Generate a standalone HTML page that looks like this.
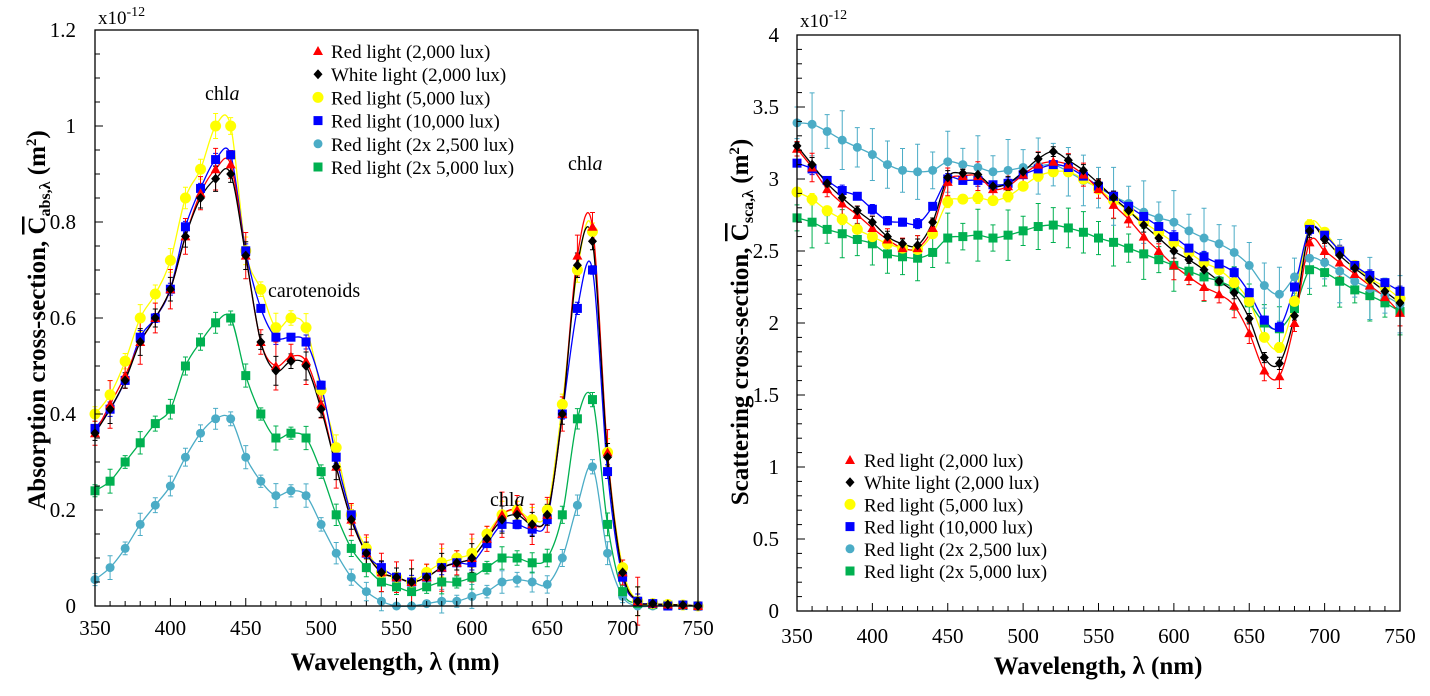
<!DOCTYPE html>
<html><head><meta charset="utf-8"><style>body{margin:0;background:#fff}svg{display:block}svg text{font-family:'Liberation Serif','DejaVu Serif',serif !important}</style></head>
<body>
<svg id="s" width="1430" height="696" xmlns="http://www.w3.org/2000/svg" style="font-family:'Liberation Serif',serif"></svg>
<script>
const S=document.getElementById('s');let h='';
const wl=[];for(let w=350;w<=750;w+=10)wl.push(w);
const C={r:'#ff0000',k:'#000000',y:'#ffff00',b:'#0000ff',c:'#4bacc6',g:'#00b050'};
const A={
k:[.36,.41,.47,.55,.60,.66,.77,.85,.89,.90,.73,.55,.49,.51,.50,.41,.29,.18,.11,.07,.06,.05,.06,.08,.09,.10,.14,.18,.19,.17,.19,.40,.71,.76,.31,.07,.01,.005,.003,.002,0],
r:[.36,.42,.48,.55,.60,.66,.77,.86,.91,.92,.73,.55,.50,.52,.51,.42,.29,.18,.11,.07,.06,.05,.06,.08,.09,.10,.14,.19,.20,.17,.19,.40,.73,.79,.32,.07,.01,.005,.003,.002,0],
y:[.40,.44,.51,.60,.65,.72,.85,.91,1.0,1.0,.74,.66,.58,.60,.58,.45,.33,.19,.12,.07,.06,.05,.07,.09,.10,.11,.15,.19,.20,.18,.20,.42,.70,.78,.32,.08,.01,.005,.003,.002,0],
b:[.37,.41,.47,.56,.60,.66,.79,.87,.93,.94,.74,.62,.56,.56,.55,.46,.31,.19,.11,.08,.06,.05,.06,.08,.09,.09,.13,.17,.17,.16,.18,.40,.62,.70,.28,.06,.01,.005,0,.002,0],
g:[.24,.26,.30,.34,.38,.41,.50,.55,.59,.60,.48,.40,.35,.36,.35,.28,.19,.12,.08,.05,.04,.03,.04,.05,.05,.06,.08,.10,.10,.09,.10,.19,.39,.43,.17,.03,.005,.003,.002,.001,0],
c:[.055,.08,.12,.17,.21,.25,.31,.36,.39,.39,.31,.26,.23,.24,.23,.17,.11,.06,.03,.01,0,0,.005,.01,.01,.02,.03,.05,.055,.05,.045,.10,.21,.29,.11,.02,0,0,0,0,0]};
const B={
c:[3.39,3.38,3.33,3.27,3.22,3.17,3.10,3.06,3.05,3.06,3.12,3.10,3.08,3.05,3.06,3.08,3.09,3.10,3.05,2.99,2.94,2.88,2.83,2.77,2.73,2.70,2.64,2.59,2.55,2.49,2.40,2.26,2.20,2.32,2.45,2.42,2.36,2.29,2.24,2.19,2.13],
k:[3.23,3.10,2.97,2.87,2.78,2.70,2.60,2.55,2.54,2.70,3.01,3.04,3.03,2.95,2.97,3.05,3.14,3.19,3.13,3.06,2.97,2.87,2.78,2.68,2.59,2.50,2.44,2.37,2.29,2.21,2.03,1.76,1.72,2.05,2.64,2.58,2.47,2.38,2.30,2.22,2.14],
r:[3.21,3.08,2.93,2.83,2.75,2.66,2.58,2.52,2.52,2.66,2.98,3.02,3.02,2.93,2.95,3.03,3.10,3.12,3.10,3.03,2.93,2.82,2.72,2.60,2.50,2.40,2.32,2.25,2.20,2.12,1.93,1.67,1.63,2.00,2.56,2.50,2.42,2.34,2.26,2.18,2.07],
y:[2.91,2.86,2.78,2.72,2.65,2.60,2.55,2.52,2.51,2.62,2.84,2.86,2.87,2.85,2.88,2.95,3.02,3.05,3.05,3.00,2.93,2.85,2.78,2.70,2.63,2.56,2.49,2.42,2.37,2.28,2.15,1.90,1.83,2.15,2.68,2.63,2.50,2.40,2.31,2.25,2.17],
b:[3.11,3.07,2.99,2.92,2.88,2.79,2.71,2.70,2.69,2.81,3.00,2.99,2.99,2.96,2.97,3.03,3.07,3.10,3.08,3.02,2.95,2.88,2.81,2.74,2.67,2.60,2.52,2.46,2.41,2.35,2.21,2.02,1.97,2.25,2.65,2.61,2.50,2.40,2.33,2.28,2.22],
g:[2.73,2.70,2.65,2.62,2.58,2.55,2.48,2.46,2.45,2.49,2.59,2.60,2.61,2.59,2.61,2.64,2.67,2.68,2.66,2.63,2.59,2.56,2.52,2.48,2.44,2.40,2.36,2.32,2.29,2.24,2.14,2.00,1.96,2.10,2.37,2.35,2.29,2.23,2.19,2.14,2.08]};
const E1={k:.03,r:.05,y:.03,b:.015,g:.025,c:.025};
const E2={k:.05,r:.1,y:.04,b:.04,g:.18,c:.22};
function mk(t,x,y){const c=C[t];
 if(t=='r')return `<polygon points="${x},${y-5} ${x-5},${y+4} ${x+5},${y+4}" fill="${c}"/>`;
 if(t=='k')return `<polygon points="${x},${y-5} ${x+4.5},${y} ${x},${y+5} ${x-4.5},${y}" fill="${c}"/>`;
 if(t=='y')return `<circle cx="${x}" cy="${y}" r="5.5" fill="${c}"/>`;
 if(t=='b')return `<rect x="${x-4.5}" y="${y-4.5}" width="9" height="9" fill="${c}"/>`;
 if(t=='c')return `<circle cx="${x}" cy="${y}" r="4.5" fill="${c}"/>`;
 return `<rect x="${x-4.5}" y="${y-4.5}" width="9" height="9" fill="${c}"/>`;}
function path(p){let d=`M${p[0][0]},${p[0][1]}`;for(let i=0;i<p.length-1;i++){const p0=p[i-1]||p[i],p1=p[i],p2=p[i+1],p3=p[i+2]||p2;
 d+=` C${p1[0]+(p2[0]-p0[0])/6},${p1[1]+(p2[1]-p0[1])/6} ${p2[0]-(p3[0]-p1[0])/6},${p2[1]-(p3[1]-p1[1])/6} ${p2[0]},${p2[1]}`;}return d;}
function chart(D,E,x0,x1,y0,y1,ymax,order){
 const X=w=>x0+(w-350)/400*(x1-x0),Y=v=>y0-v/ymax*(y0-y1);
 for(const t of order){const p=wl.map((w,i)=>[X(w),Y(D[t][i])]);
  h+=`<path d="${path(p)}" fill="none" stroke="${C[t]}" stroke-width="1.3"/>`;
  p.forEach((q,i)=>{if(q[1]<y0-3){const e=E[t]*(y0-y1)/ymax*(0.5+0.5*Math.sin(i*1.7)**2);
   h+=`<path d="M${q[0]},${q[1]-e}V${q[1]+e}M${q[0]-2.5},${q[1]-e}h5M${q[0]-2.5},${q[1]+e}h5" stroke="${C[t]}" stroke-width="1"/>`;}});}
 for(const t of order){wl.forEach((w,i)=>{h+=mk(t,X(w),Y(D[t][i]));});}}
chart(A,E1,95,698,606,30,1.2,['c','g','y','b','r','k']);
h+=`<rect x="95" y="30" width="603" height="576" fill="none" stroke="#000" stroke-width="1.3"/>`;
for(let w=350;w<=750;w+=10){const x=95+(w-350)/400*603;h+=`<line x1="${x}" y1="606" x2="${x}" y2="${w%50?601:598}" stroke="#000"/>`;if(w%50==0)h+=`<text x="${x}" y="635" font-size="21" text-anchor="middle">${w}</text>`;}
for(let k=0;k<=24;k++){const y=606-k*24;h+=`<line x1="95" y1="${y}" x2="${k%4?100:103}" y2="${y}" stroke="#000"/>`;if(k%4==0)h+=`<text x="76" y="${y+7}" font-size="21" text-anchor="end">${k==0?'0':(k/20).toString()}</text>`;}
h+=`<text x="98" y="24" font-size="19">x10<tspan dy="-8" font-size="14">-12</tspan></text>`;
h+=`<text x="205" y="100" font-size="20">chl<tspan font-style="italic">a</tspan></text><text x="268" y="297" font-size="20">carotenoids</text><text x="490" y="506" font-size="20">chl<tspan font-style="italic">a</tspan></text><text x="568" y="170" font-size="20">chl<tspan font-style="italic">a</tspan></text>`;
h+=`<text x="395" y="670" font-size="25" font-weight="bold" text-anchor="middle">Wavelength, λ (nm)</text>`;
h+=`<text transform="translate(45,320) rotate(-90)" font-size="25" font-weight="bold" text-anchor="middle">Absorption cross-section, <tspan text-decoration="overline">C</tspan><tspan font-size="16" dy="5">abs,λ</tspan><tspan dy="-5"> (m</tspan><tspan font-size="15" dy="-9">2</tspan><tspan dy="9">)</tspan></text>`;
const L=['Red light (2,000 lux)','White light (2,000 lux)','Red light (5,000 lux)','Red light (10,000 lux)','Red light (2x 2,500 lux)','Red light (2x 5,000 lux)'],T=['r','k','y','b','c','g'];
T.forEach((t,i)=>{const y=51+i*23.2;h+=mk(t,318,y)+`<text x="331" y="${y+7}" font-size="19">${L[i]}</text>`;});
chart(B,E2,797,1400,611,35,4,['g','c','y','b','r','k']);
h+=`<rect x="797" y="35" width="603" height="576" fill="none" stroke="#000" stroke-width="1.3"/>`;
for(let w=350;w<=750;w+=10){const x=797+(w-350)/400*603;h+=`<line x1="${x}" y1="611" x2="${x}" y2="${w%50?606:603}" stroke="#000"/>`;if(w%50==0)h+=`<text x="${x}" y="643" font-size="21" text-anchor="middle">${w}</text>`;}
for(let k=0;k<=40;k++){const y=611-k*14.4;h+=`<line x1="797" y1="${y}" x2="${k%5?802:805}" y2="${y}" stroke="#000"/>`;if(k%5==0)h+=`<text x="779" y="${y+7}" font-size="21" text-anchor="end">${(k/10).toString()}</text>`;}
h+=`<text x="800" y="27" font-size="19">x10<tspan dy="-8" font-size="14">-12</tspan></text>`;
h+=`<text x="1098" y="674" font-size="25" font-weight="bold" text-anchor="middle">Wavelength, λ (nm)</text>`;
h+=`<text transform="translate(748,322) rotate(-90)" font-size="25" font-weight="bold" text-anchor="middle">Scattering cross-section, <tspan text-decoration="overline">C</tspan><tspan font-size="16" dy="5">sca,λ</tspan><tspan dy="-5"> (m</tspan><tspan font-size="15" dy="-9">2</tspan><tspan dy="9">)</tspan></text>`;
T.forEach((t,i)=>{const y=460+i*22.2;h+=mk(t,850,y)+`<text x="864" y="${y+7}" font-size="19">${L[i]}</text>`;});
S.innerHTML=h;
</script>
</body></html>
